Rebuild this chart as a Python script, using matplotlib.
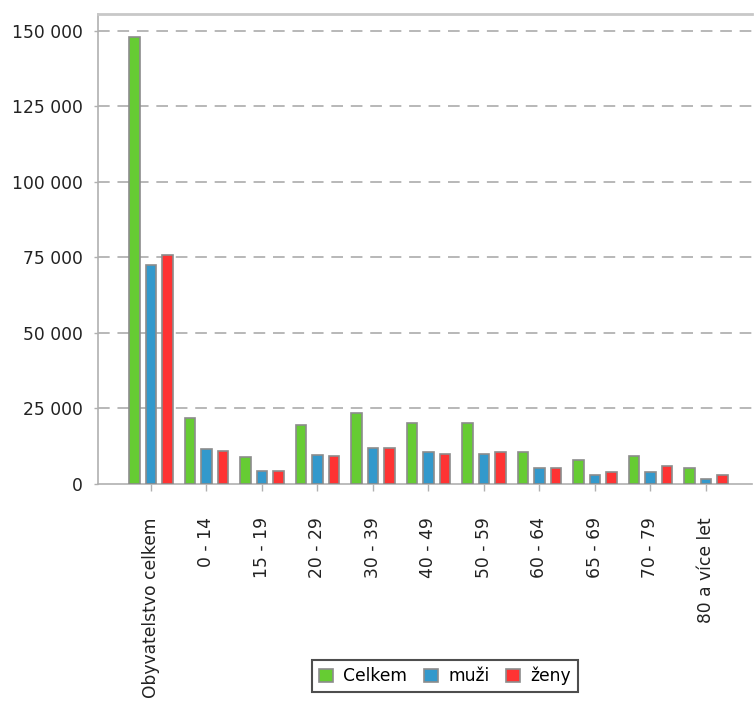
import matplotlib
matplotlib.use("Agg")
import matplotlib.pyplot as plt
import numpy as np
from matplotlib.patches import Patch
from matplotlib.ticker import FuncFormatter

categories = ["Obyvatelstvo celkem", "0 - 14", "15 - 19", "20 - 29", "30 - 39", "40 - 49",
              "50 - 59", "60 - 64", "65 - 69", "70 - 79", "80 a více let"]
celkem = [148000, 22000, 9000, 19500, 23500, 20200, 20200, 10500, 7800, 9200, 5300]
muzi = [72500, 11700, 4400, 9700, 11800, 10500, 9800, 5300, 3100, 4000, 1500]
zeny = [75800, 11000, 4400, 9100, 11800, 9800, 10500, 5300, 3900, 5900, 3100]
series_names = ["Celkem", "muži", "ženy"]
colors = ["#66cc33", "#3399cc", "#ff3333"]
yticks = [0, 25000, 50000, 75000, 100000, 125000, 150000]

plt.rcParams['font.family'] = ['DejaVu Sans']
fs = 12.3

fig = plt.figure(figsize=(7.54, 7.04), dpi=100)
ax = fig.add_axes([98/754, 1-484/704, (752-98)/754, (484-14)/704])

x = np.arange(len(categories))
w = 0.19
edge = "#8c8c8c"
for i, (vals, c) in enumerate(zip([celkem, muzi, zeny], colors)):
    ax.bar(x + (i - 1) * 0.3, vals, width=w, color=c, edgecolor=edge, linewidth=1.2, zorder=3)

ax.set_xlim(-0.955, 10.83)
ax.set_ylim(0, 155500)
ax.set_yticks(yticks)
ax.yaxis.set_major_formatter(FuncFormatter(lambda v, p: f"{int(v):,}".replace(",", " ")))
ax.set_xticks(x)
ax.set_xticklabels(categories, rotation=90, ha="center", va="top")

for yv in yticks[1:]:
    ax.axhline(yv, color="#b8b8b8", linewidth=1.4, linestyle=(0, (6, 4)), zorder=1)

ax.tick_params(axis="y", length=3, width=1, color="#b0b0b0", pad=8, labelsize=fs, labelcolor="#222222")
ax.tick_params(axis="x", length=5, width=1, color="#b0b0b0", pad=19, labelsize=fs, labelcolor="#222222")

for s in ["left", "bottom"]:
    ax.spines[s].set_color("#b0b0b0")
    ax.spines[s].set_linewidth(1.2)
ax.spines["top"].set_color("#c8c8c8")
ax.spines["top"].set_linewidth(2)
ax.spines["right"].set_visible(False)

handles = [Patch(facecolor=c, edgecolor=edge, linewidth=1.2) for c in colors]
leg = fig.legend(handles, series_names, loc="center", bbox_to_anchor=(445/754, 1-676/704),
                 ncol=3, frameon=True, fancybox=False, fontsize=fs, handlelength=0.8,
                 handleheight=0.8, handletextpad=0.6, columnspacing=1.0, borderpad=0.4,
                 edgecolor="#222222")
leg.get_frame().set_linewidth(1.5)

fig.savefig("out.png", dpi=100)
